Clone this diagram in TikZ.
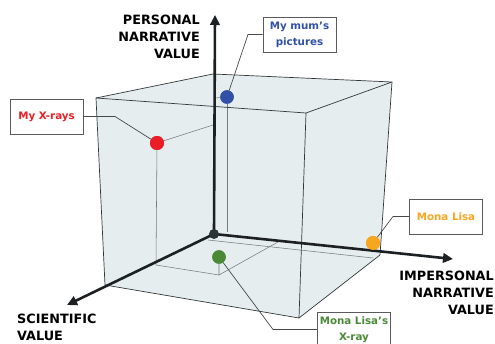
\documentclass[tikz,border=0pt]{standalone}
\usepackage{fontspec}
\setmainfont{DejaVu Sans}
\usetikzlibrary{arrows.meta}
\definecolor{cubefill}{RGB}{230,237,239}
\definecolor{edgec}{RGB}{50,55,58}
\definecolor{innerc}{RGB}{120,124,126}
\definecolor{axisc}{RGB}{28,32,34}
\definecolor{origc}{RGB}{40,52,56}
\definecolor{connc}{RGB}{70,72,74}
\definecolor{boxc}{RGB}{90,90,90}
\definecolor{redc}{RGB}{234,30,38}
\definecolor{bluec}{RGB}{50,80,165}
\definecolor{orangec}{RGB}{247,166,30}
\definecolor{greenc}{RGB}{74,137,54}
\begin{document}
\begin{tikzpicture}[x=1pt,y=-1pt,
  edge/.style={draw=edgec, line width=0.7pt, line join=round},
  inner/.style={draw=innerc, line width=0.55pt},
  axis/.style={draw=axisc, line width=2.6pt, -{Triangle[length=10pt,width=9.5pt]}},
  dot/.style={circle, inner sep=0pt, minimum size=14pt},
  conn/.style={draw=connc, line width=0.7pt},
  lbl/.style={draw=boxc, line width=0.7pt, fill=white, font=\bfseries\fontsize{10.3}{16}\selectfont, align=center, inner sep=0pt, minimum width=73pt, minimum height=35pt},
  axlbl/.style={font=\bfseries\fontsize{12.8}{16.7}\selectfont, inner sep=0pt}
]
\useasboundingbox (0,0) rectangle (495,344);

% cube corners
\coordinate (tlf) at (96,98);
\coordinate (tbl) at (213,74);
\coordinate (tbr) at (392,82);
\coordinate (trf) at (306,113);
\coordinate (blf) at (105,285);
\coordinate (brf) at (299,318);
\coordinate (bbr) at (380,255);
\coordinate (org) at (214,234);

% cube fill
\fill[cubefill] (tlf) -- (tbl) -- (tbr) -- (bbr) -- (brf) -- (blf) -- cycle;

% inner projection lines
\coordinate (redax) at (213,125);
\coordinate (redfoot) at (156,265);
\coordinate (floorjoin) at (219,275);
\coordinate (grax) at (278,242);
\coordinate (bluefoot) at (227,232);
\coordinate (blueax) at (215,98);
\coordinate (backA) at (208,240);
\coordinate (backB) at (373,258);
\node[dot, fill=redc] (red) at (157,143) {};
\node[dot, fill=bluec, minimum size=13.5pt] (blue) at (227,97) {};
\node[dot, fill=orangec] (orange) at (373,243) {};
\node[dot, fill=greenc, minimum size=13.5pt] (green) at (219,257) {};

\draw[inner] (red) -- (redax);
\draw[inner] (red) -- (redfoot) -- (floorjoin);
\draw[inner] (green) -- (floorjoin) -- (grax);
\draw[inner] (blue) -- (bluefoot);
\draw[inner] (blue) -- (blueax);
\draw[inner] (backA) -- (backB);

% cube edges
\draw[edge] (tlf) -- (trf) -- (brf) -- (blf) -- cycle;
\draw[edge] (tlf) -- (tbl) -- (tbr) -- (trf);
\draw[edge] (tbr) -- (bbr) -- (brf);

% axes
\coordinate (ytip) at (215,15);
\coordinate (xtip) at (453,259);
\coordinate (ztip) at (67,305);
\draw[axis] (org) -- (ytip);
\draw[axis] (org) -- (xtip);
\draw[axis] (org) -- (ztip);
\node[circle, fill=origc, inner sep=0pt, minimum size=10pt] (origin) at (org) {};

% dots redrawn on top
\node[dot, fill=redc] at (red) {};
\node[dot, fill=bluec, minimum size=13.5pt] at (blue) {};
\node[dot, fill=orangec] at (orange) {};
\node[dot, fill=greenc, minimum size=13.5pt] at (green) {};

% labels
\node[lbl, text=redc] (xrays) at (46.5,116.5) {My X-rays};
\node[lbl, text=bluec] (mum) at (299.5,34.5) {My mum’s\\pictures};
\node[lbl, text=orangec] (mona) at (446,216.5) {Mona Lisa};
\node[lbl, text=greenc] (mlx) at (354,329.5) {Mona Lisa’s\\X-ray};

% connectors
\coordinate (rbend) at (115,116.5);
\coordinate (bbend) at (248,34.5);
\coordinate (obend) at (393,216.5);
\coordinate (gbend) at (273,329.5);
\draw[conn] (red) -- (rbend) -- (xrays.east);
\draw[conn] (blue) -- (bbend) -- (mum.west);
\draw[conn] (orange) -- (obend) -- (mona.west);
\draw[conn] (green) -- (gbend) -- (mlx.west);

% axis labels
\node[axlbl, align=right, anchor=east] (ylab) at (200,36.7) {PERSONAL\\NARRATIVE\\VALUE};
\node[axlbl, align=left, anchor=west] (zlab) at (17,327.3) {SCIENTIFIC\\VALUE};
\node[axlbl, align=right, anchor=east] (xlab) at (494,293) {IMPERSONAL\\NARRATIVE\\VALUE};
\end{tikzpicture}
\end{document}
